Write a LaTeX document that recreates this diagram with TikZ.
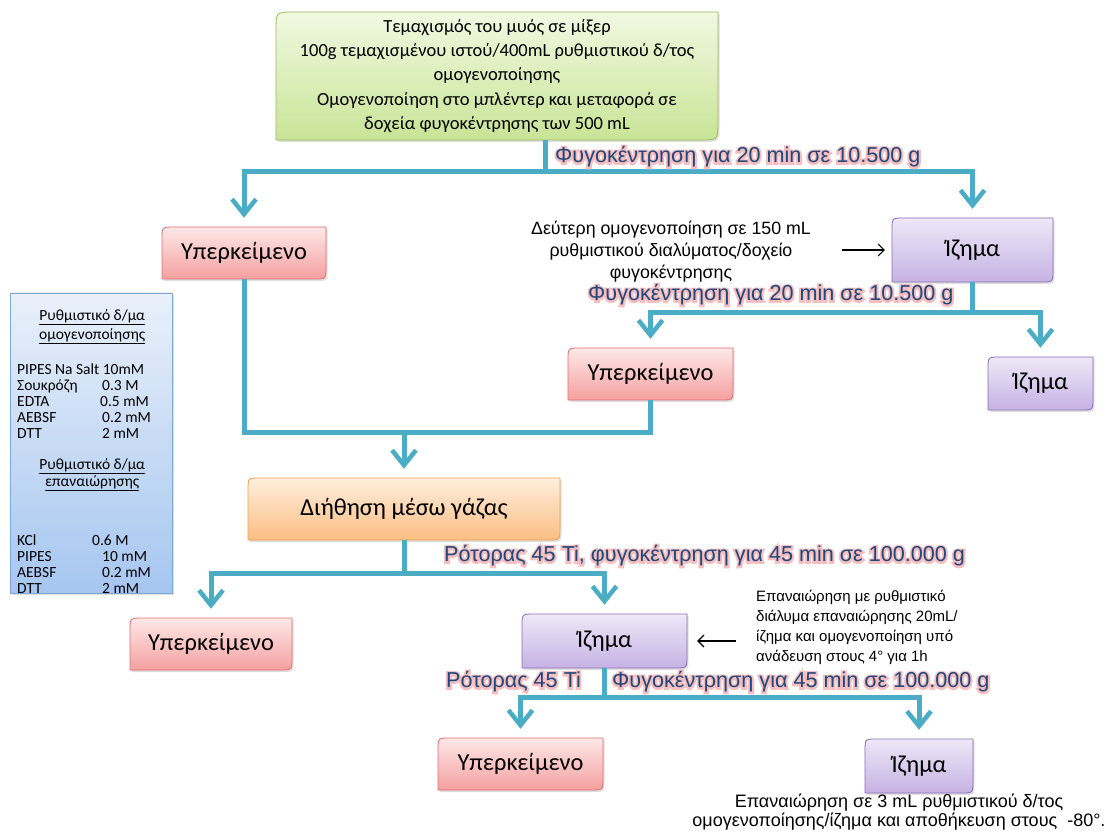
\documentclass[tikz,border=0pt]{standalone}
\usepackage{fontspec}
\setmainfont{Carlito}
\newfontfamily\arialf{Liberation Sans}
\newfontfamily\glowf[FakeBold=18]{Liberation Sans}
\usetikzlibrary{arrows.meta,shadows,calc}
\definecolor{flowc}{RGB}{75,172,198}
\definecolor{lblc}{RGB}{31,73,125}
\definecolor{glowc}{RGB}{246,190,190}
\definecolor{pinkT}{RGB}{253,232,232}\definecolor{pinkB}{RGB}{245,160,160}\definecolor{pinkD}{RGB}{224,112,112}
\definecolor{purT}{RGB}{238,232,247}\definecolor{purB}{RGB}{198,178,228}\definecolor{purD}{RGB}{140,110,180}
\definecolor{grnT}{RGB}{241,249,226}\definecolor{grnB}{RGB}{200,228,150}\definecolor{grnD}{RGB}{155,187,89}
\definecolor{orgT}{RGB}{254,238,222}\definecolor{orgB}{RGB}{251,190,130}\definecolor{orgD}{RGB}{240,160,80}
\definecolor{bluT}{RGB}{233,240,250}\definecolor{bluB}{RGB}{166,198,240}\definecolor{bluD}{RGB}{126,166,216}
\tikzset{
  shadowed/.style={drop shadow={opacity=0.25,shadow xshift=1.5pt,shadow yshift=-2pt}},
  pinkbox/.style={shadowed,top color=pinkT,bottom color=pinkB,draw=pinkD,line width=0.8pt},
  purbox/.style={shadowed,top color=purT,bottom color=purB,draw=purD,line width=0.8pt},
  grnbox/.style={shadowed,top color=grnT,bottom color=grnB,draw=grnD,line width=0.8pt},
  orgbox/.style={shadowed,top color=orgT,bottom color=orgB,draw=orgD,line width=0.8pt},
  bufbox/.style={shadowed,top color=bluT,bottom color=bluB,draw=bluD,line width=0.8pt},
  boxtext/.style={inner sep=0pt,align=center,font=\fontsize{24.4}{28}\selectfont},
  toptext/.style={inner sep=0pt,align=center,font=\fontsize{18.5}{24.2}\selectfont},
  buftext/.style={inner sep=0pt,align=left,font=\fontsize{15.5}{16}\selectfont},
  note/.style={inner sep=0pt,font=\arialf\fontsize{17.8}{22}\selectfont},
  notesm/.style={inner sep=0pt,font=\arialf\fontsize{15}{20}\selectfont},
  lbl/.style={inner sep=0pt,anchor=west,text=lblc,font=\fontsize{21.6}{24}\selectfont},
  line/.style={draw=flowc,line width=5pt},
  arr/.style={line,-{Straight Barb[length=15pt,width=24pt,line width=4.5pt]},shorten >=9pt},
  blk/.style={draw=black,line width=1.1pt,-{Straight Barb[length=6pt,width=12pt,line width=1.1pt]}}
}
\def\crad{12}
% name, style, x1, y1, x2, y2, text
\newcommand\flowbox[7]{%
  \path[#2] (#3,#6) -- (#3,#4+\crad) .. controls (#3,#4) .. (#3+\crad,#4) -- (#5,#4)
     -- (#5,#6-\crad) .. controls (#5,#6) .. (#5-\crad,#6) -- cycle;
  \node[boxtext,minimum width=#5-#3,minimum height=#6-#4] (#1) at ({(#3+#5)/2},{(#4+#6)/2}) {#7};
}
\newcommand\glowtext[3]{%
  \node[lbl] (#1) at (#2) {\rlap{\glowf\color{glowc}#3}\arialf #3};
}
\begin{document}
\begin{tikzpicture}[x=1pt,y=-1pt]
\useasboundingbox[fill=white] (0,0) rectangle (1112,834);

% ---------- boxes ----------
\def\crad{18}
\flowbox{top}{grnbox}{276}{12}{718}{140}{}
\node[toptext] (toptxt) at (497,76) {Τεμαχισμός του μυός σε μίξερ\\100g τεμαχισμένου ιστού/400mL ρυθμιστικού δ/τος\\ομογενοποίησης\\Ομογενοποίηση στο μπλέντερ και μεταφορά σε\\δοχεία φυγοκέντρησης των 500 mL};
\def\crad{12}
\flowbox{up1}{pinkbox}{162}{227}{326}{279}{Υπερκείμενο}
\flowbox{iz1}{purbox}{892}{218}{1053}{282}{Ίζημα}
\flowbox{up2}{pinkbox}{568}{348}{733}{400}{Υπερκείμενο}
\flowbox{iz2}{purbox}{988}{357}{1093}{410}{Ίζημα}
\flowbox{filt}{orgbox}{248}{478}{560}{540}{Διήθηση μέσω γάζας}
\flowbox{up3}{pinkbox}{130}{618}{292}{670}{Υπερκείμενο}
\flowbox{iz3}{purbox}{522}{614}{687}{668}{Ίζημα}
\flowbox{up4}{pinkbox}{438}{738}{603}{790}{Υπερκείμενο}
\flowbox{iz4}{purbox}{865}{739}{973}{793}{Ίζημα}

% ---------- buffer box ----------
\node[bufbox,minimum width=162,minimum height=300,inner sep=0pt] (buf) at (91,443) {};
\node[buftext,anchor=north west] (buftxt) at (17,309) {%
\makebox[150pt][c]{\underline{Ρυθμιστικό δ/μα}}\\[3pt]
\makebox[150pt][c]{\underline{ομογενοποίησης}}\\[19pt]
PIPES Na Salt 10mM\\
\makebox[85pt][l]{Σουκρόζη}0.3 M\\
\makebox[83pt][l]{EDTA}0.5 mM\\
\makebox[85pt][l]{AEBSF}0.2 mM\\
\makebox[85pt][l]{DTT}2 mM\\[15pt]
\makebox[150pt][c]{\underline{Ρυθμιστικό δ/μα}}\\[1pt]
\makebox[150pt][c]{\underline{επαναιώρησης}}\\[43pt]
\makebox[75pt][l]{KCl}0.6 M\\
\makebox[85pt][l]{PIPES}10 mM\\
\makebox[85pt][l]{AEBSF}0.2 mM\\
\makebox[85pt][l]{DTT}2 mM};

% ---------- connectors ----------
\coordinate (j1) at (545,172);
\coordinate (j2) at (972.5,313);
\coordinate (j3) at (404,433);
\coordinate (j4) at (404,573);
\coordinate (j5) at (604.5,697);
\draw[line] (top.south -| j1) -- (j1);
\draw[arr] (j1) -| (up1.north);
\draw[arr] (j1) -| (iz1.north);
\draw[line] (iz1.south) -- (j2);
\draw[arr] (j2) -| (up2.north);
\draw[arr] (j2) -| (iz2.north);
\draw[line] (up1.south) |- (j3);
\draw[line] (up2.south) |- (j3);
\draw[arr] (j3) -- (filt.north);
\draw[line] (filt.south) -- (j4);
\draw[arr] (j4) -| (up3.north);
\draw[arr] (j4) -| (iz3.north);
\draw[line] (iz3.south) -- (j5);
\draw[arr] (j5) -| (up4.north);
\draw[arr] (j5) -| (iz4.north);

% ---------- labels ----------
\glowtext{L1}{555,157}{Φυγοκέντρηση για 20 min σε 10.500 g}
\glowtext{L2}{588,295}{Φυγοκέντρηση για 20 min σε 10.500 g}
\glowtext{L3}{444,556}{Ρότορας 45 Ti, φυγοκέντρηση για 45 min σε 100.000 g}
\glowtext{L4}{446,682}{Ρότορας 45 Ti}
\glowtext{L5}{612,682}{Φυγοκέντρηση για 45 min σε 100.000 g}

% ---------- notes ----------
\node[note,align=center] (n1) at (671,252) {Δεύτερη ομογενοποίηση σε 150 mL\\ρυθμιστικού διαλύματος/δοχείο\\φυγοκέντρησης};
\draw[blk,shorten <=31pt,shorten >=7pt] (n1.east |- iz1.west) -- (iz1.west);
\node[notesm,align=left,anchor=west] (n2) at (756,627) {Επαναιώρηση με ρυθμιστικό\\διάλυμα επαναιώρησης 20mL/\\ίζημα και ομογενοποίηση υπό\\ανάδευση στους 4° για 1h};
\draw[blk,shorten <=20pt,shorten >=10pt] (n2.west |- iz3.east) -- (iz3.east);
\node[note,align=center,font=\arialf\fontsize{18}{19}\selectfont] (n3) at (899,812) {Επαναιώρηση σε 3 mL ρυθμιστικού δ/τος\\ομογενοποίησης/ίζημα και αποθήκευση στους~ -80°.};
\end{tikzpicture}
\end{document}
